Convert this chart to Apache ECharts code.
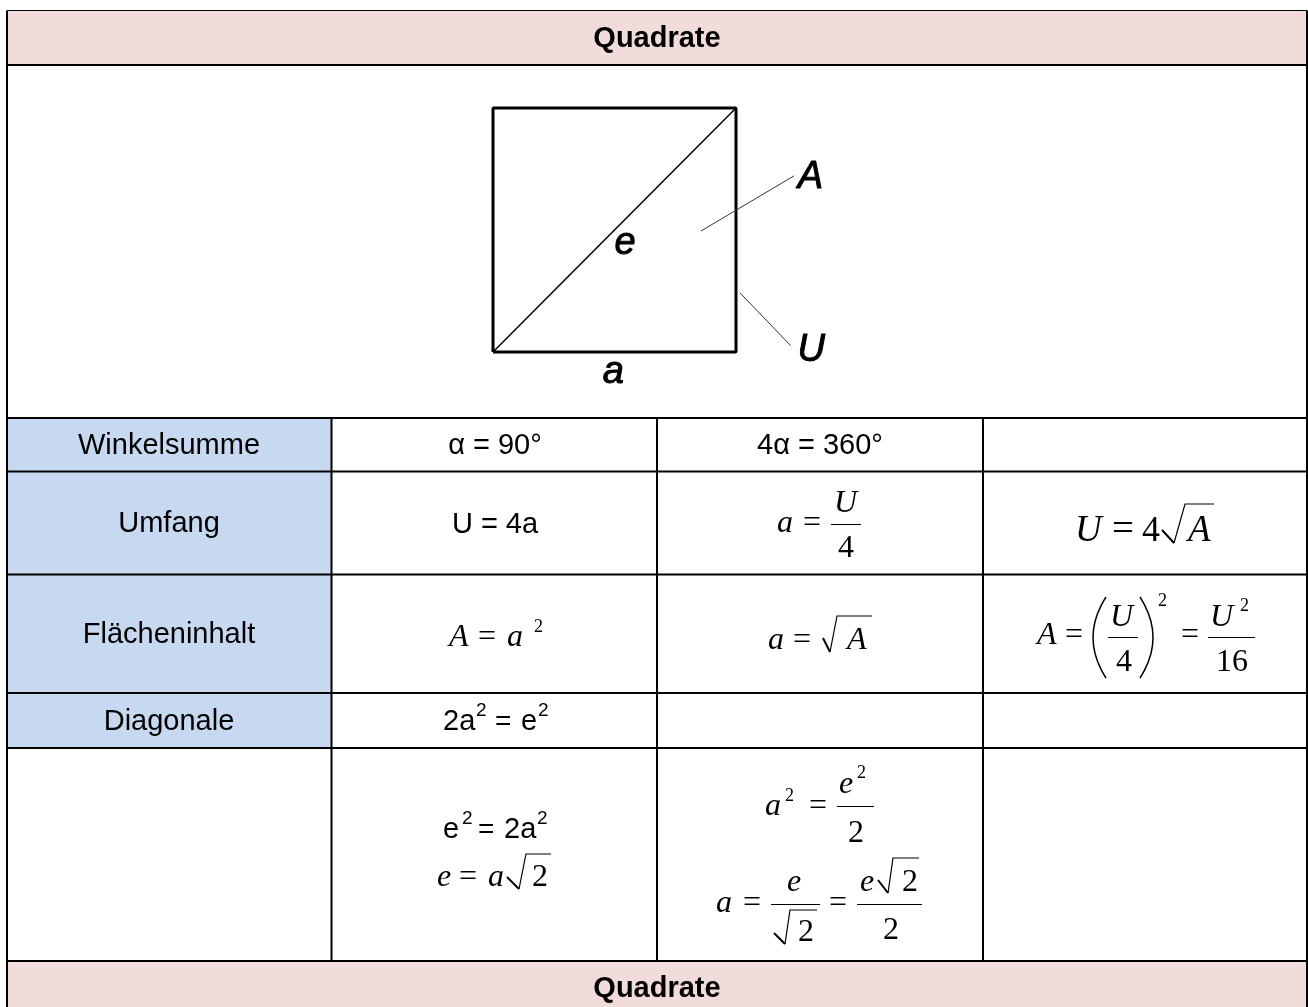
<!DOCTYPE html>
<html>
<head>
  <meta charset="utf-8">
  <title>Quadrate</title>
  <style>
    html, body { margin: 0; padding: 0; background: #fff; }
    #main { width: 1308px; height: 1007px; }
  </style>
</head>
<body>
<div id="main"></div>
<script src="https://cdn.jsdelivr.net/npm/echarts@6/dist/echarts.min.js"></script>
<script>
// Inhalt der Tabelle
var titleText = "Quadrate";
var rowLabels = ["Winkelsumme", "Umfang", "Flächeninhalt", "Diagonale"];
var plainCells = ["α = 90°", "4α = 360°", "U = 4a"];

// Skizze: Seite a = 1, alles in Einheiten des Quadrats
var squareSide = [[0, 0], [1, 0], [1, 1], [0, 1], [0, 0]];
var squareDiagonal = [[0, 0], [1, 1]];
var leaderA = [[0.856, 0.496], [1.239, 0.722]];
var leaderU = [[1.016, 0.243], [1.225, 0.026]];
var sketchLabels = [["e", 0.543, 0.447], ["a", 0.495, -0.082], ["A", 1.306, 0.717], ["U", 1.31, 0.007]];

// Tabellenraster (Achsenwerte)
var colEdges = [7, 331.5, 657, 983, 1307];
var rowEdges = [10.5, 65, 418, 471.5, 574.5, 693, 748, 961, 1007];

var PINK = "#f2dcdb", BLUE = "#c6d9f1";
var ARIAL = "Liberation Sans", TIMES = "Liberation Serif";

// Formelteile: [x, Grundlinie, Text, Art, Größe]  r = Times, i = Times kursiv, s = Arial
var formulaText = [
  // 2a² = e²
  [443, 731, "2a", "s", 29], [476, 717, "2", "s", 19], [495, 731, "=", "s", 28], [521, 731, "e", "s", 29], [538, 717, "2", "s", 19],
  // e² = 2a²
  [443, 839, "e", "s", 29], [462, 825, "2", "s", 19], [478, 839, "=", "s", 28], [504, 839, "2a", "s", 29], [537, 825, "2", "s", 19],
  // e = a√2
  [437, 887, "e", "i", 32], [459, 887, "=", "r", 32], [488, 887, "a", "i", 32], [532, 887, "2", "r", 32],
  // A = a²
  [449, 647, "A", "i", 32], [478, 647, "=", "r", 32], [507, 647, "a", "i", 32], [534, 632, "2", "r", 18],
  // a = U/4
  [777, 533, "a", "i", 32], [803, 533, "=", "r", 32], [834, 513, "U", "i", 32], [838, 558, "4", "r", 32],
  // a = √A
  [768, 650, "a", "i", 32], [793, 650, "=", "r", 32], [847, 650, "A", "i", 32],
  // a² = e²/2
  [765, 816, "a", "i", 32], [785, 801, "2", "r", 18], [809, 816, "=", "r", 32], [839, 794, "e", "i", 32],
  [857, 778, "2", "r", 18], [848, 843, "2", "r", 32],
  // a = e/√2 = e√2/2
  [716, 913, "a", "i", 32], [743, 913, "=", "r", 32], [787, 892, "e", "i", 32], [798, 942, "2", "r", 32],
  [829, 913, "=", "r", 32], [860, 892, "e", "i", 32], [902, 892, "2", "r", 32], [883, 940, "2", "r", 32],
  // U = 4√A
  [1075, 542, "U", "i", 37], [1112, 542, "=", "r", 39], [1142, 542, "4", "r", 36], [1188, 542, "A", "i", 37],
  // A = (U/4)² = U²/16
  [1037, 645, "A", "i", 32], [1065, 645, "=", "r", 32], [1110, 627, "U", "i", 32], [1116, 672, "4", "r", 32],
  [1158, 606, "2", "r", 18], [1181, 645, "=", "r", 32], [1210, 627, "U", "i", 32], [1240, 611, "2", "r", 18],
  [1216, 672, "16", "r", 32]
];
// Bruchstriche [x0, x1, y]
var fractionBars = [
  [831, 861, 524.5], [1108, 1138, 637.5], [1208, 1255, 637.5], [837, 874, 806.5], [771, 820, 904.5], [857, 922, 904.5]
];
// Wurzeln [Anfang x, y, Spitze x, y, oben x, y, Ende x]
var radicals = [
  [507, 877, 519, 889, 526, 854, 551],
  [823, 638, 830, 652, 837, 616, 872],
  [1162, 530, 1174, 543, 1185, 504, 1214],
  [774, 933, 785, 944, 790, 910, 817],
  [878, 880, 888, 893, 893, 858, 919]
];
// Klammern [x, y oben, y unten, Richtung]
var parens = [[1106, 597, 678, -1], [1140, 597, 678, 1]];

function font(kind, size) {
  if (kind === "r") return size + "px " + TIMES;
  if (kind === "i") return "italic " + size + "px " + TIMES;
  return size + "px " + ARIAL;
}

function textEl(api, x, baseline, str, kind, size) {
  var p = api.coord([x, baseline]);
  return {
    type: "text",
    style: {
      x: p[0], y: p[1] - size * (kind === "s" ? 0.31 : 0.28), text: str, font: font(kind, size),
      fill: "#000", align: "left", verticalAlign: "middle"
    }
  };
}

function centerText(api, x, y, str, css) {
  var p = api.coord([x, y]);
  return {
    type: "text",
    style: { x: p[0], y: p[1] + 1, text: str, font: css, fill: "#000", align: "center", verticalAlign: "middle" }
  };
}

function strokeLine(api, pts, w) {
  return {
    type: "polyline",
    shape: { points: pts.map(function (q) { return api.coord(q); }) },
    style: { stroke: "#000", lineWidth: w, fill: null, lineJoin: "miter" }
  };
}

function renderTable(params, api) {
  var c = colEdges, r = rowEdges, kids = [];
  function fill(x0, y0, x1, y1, color) {
    var a = api.coord([x0, y0]), b = api.coord([x1, y1]);
    kids.push({ type: "rect", shape: { x: a[0], y: a[1], width: b[0] - a[0], height: b[1] - a[1] }, style: { fill: color } });
  }
  fill(c[0], r[0], c[4], r[1], PINK);
  fill(c[0], r[2], c[1], r[6], BLUE);
  fill(c[0], r[7], c[4], r[8], PINK);

  // Linien
  kids.push(strokeLine(api, [[c[0], r[0]], [c[4], r[0]]], 1));
  [1, 2, 3, 4, 5, 6, 7].forEach(function (i) {
    kids.push(strokeLine(api, [[c[0], r[i]], [c[4], r[i]]], 2));
  });
  kids.push(strokeLine(api, [[c[0], r[0]], [c[0], r[8]]], 2));
  kids.push(strokeLine(api, [[c[4], r[0]], [c[4], r[8]]], 2));
  [1, 2, 3].forEach(function (i) {
    kids.push(strokeLine(api, [[c[i], r[2]], [c[i], r[7]]], 2));
  });

  // Titel oben und unten
  var bold = "bold 29px " + ARIAL, label = "29px " + ARIAL;
  kids.push(centerText(api, 657, 38, titleText, bold));
  kids.push(centerText(api, 657, 988, titleText, bold));
  // Zeilenköpfe
  var labelY = [445, 523, 634, 721];
  rowLabels.forEach(function (t, i) {
    kids.push(centerText(api, 169, labelY[i], t, label));
  });
  kids.push(centerText(api, 495, 445, plainCells[0], label));
  kids.push(centerText(api, 820, 445, plainCells[1], label));
  kids.push(centerText(api, 495, 524, plainCells[2], label));

  formulaText.forEach(function (f) {
    kids.push(textEl(api, f[0], f[1], f[2], f[3], f[4]));
  });
  fractionBars.forEach(function (b) {
    kids.push(strokeLine(api, [[b[0], b[2]], [b[1], b[2]]], 1));
  });
  radicals.forEach(function (q) {
    kids.push(strokeLine(api, [[q[0], q[1]], [q[2], q[3]]], 2));
    kids.push(strokeLine(api, [[q[2], q[3]], [q[4], q[5]], [q[6], q[5]]], 1.2));
  });
  parens.forEach(function (q) {
    var pts = [];
    [0, 0.05, 0.1, 0.2, 0.3, 0.4, 0.5, 0.6, 0.7, 0.8, 0.9, 0.95, 1].forEach(function (u) {
      var bow = 1 - Math.pow(2 * u - 1, 2);
      pts.push([q[0] + q[3] * bow * 13, q[1] + (q[2] - q[1]) * u]);
    });
    kids.push(strokeLine(api, pts, 1.5));
  });
  return { type: "group", children: kids };
}

function renderSketchLabels(params, api) {
  var p = api.coord([api.value(0), api.value(1)]);
  return {
    type: "text",
    style: {
      x: p[0], y: p[1], text: sketchLabels[params.dataIndex][0],
      font: "italic 38px " + ARIAL, fill: "#000", stroke: "#000", lineWidth: 1,
      align: "center", verticalAlign: "middle"
    }
  };
}

var myEcharts = echarts.init(document.getElementById("main"));

myEcharts.setOption({
  animation: false,
  grid: [
    { left: 0, top: 0, width: 1308, height: 1007 },
    // 243 Pixel je Einheit, die Achsen reichen über das Quadrat hinaus
    { left: 493, top: 108, width: 340.2, height: 292.8 }
  ],
  xAxis: [
    { type: "value", min: 0, max: 1308, show: false, gridIndex: 0 },
    { type: "value", min: 0, max: 1.4, show: false, gridIndex: 1 }
  ],
  yAxis: [
    { type: "value", min: 0, max: 1007, inverse: true, show: false, gridIndex: 0 },
    { type: "value", min: -0.2, max: 1, show: false, gridIndex: 1 }
  ],
  series: [
    {
      type: "custom", xAxisIndex: 0, yAxisIndex: 0, silent: true, clip: false,
      data: [[0, 0]], renderItem: renderTable
    },
    {
      type: "line", xAxisIndex: 1, yAxisIndex: 1, data: squareSide, symbol: "none", clip: false, silent: true,
      lineStyle: { color: "#000", width: 3 }, z: 3
    },
    {
      type: "line", xAxisIndex: 1, yAxisIndex: 1, data: squareDiagonal, symbol: "none", clip: false, silent: true,
      lineStyle: { color: "#000", width: 1.5 }, z: 3
    },
    {
      type: "line", xAxisIndex: 1, yAxisIndex: 1, data: leaderA, symbol: "none", clip: false, silent: true,
      lineStyle: { color: "#333", width: 1 }, z: 3
    },
    {
      type: "line", xAxisIndex: 1, yAxisIndex: 1, data: leaderU, symbol: "none", clip: false, silent: true,
      lineStyle: { color: "#333", width: 1 }, z: 3
    },
    {
      type: "custom", xAxisIndex: 1, yAxisIndex: 1, silent: true, clip: false, z: 4,
      data: sketchLabels.map(function (d) { return [d[1], d[2]]; }), renderItem: renderSketchLabels
    }
  ]
});
</script>
</body>
</html>
